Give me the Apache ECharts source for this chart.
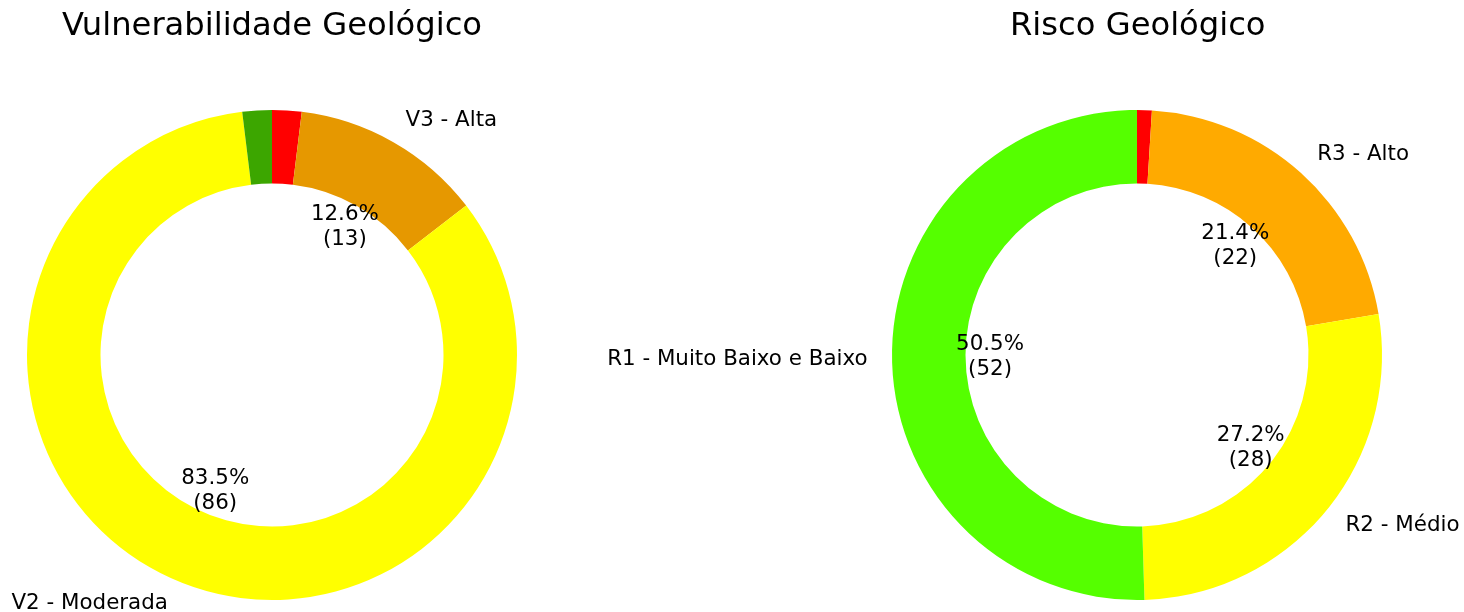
<!DOCTYPE html>
<html>
<head>
<meta charset="utf-8">
<script src="https://cdn.jsdelivr.net/npm/echarts@6/dist/echarts.min.js"></script>
<style>html,body{margin:0;padding:0;background:#fff}#c{width:1464px;height:612px}</style>
</head>
<body>
<div id="c"></div>
<script>
// Data
const vulnNames = ['V4 - Muito Alta', 'V3 - Alta', 'V2 - Moderada', 'V1 - Baixa'];
const vulnValues = [2, 13, 86, 2];
const vulnColors = ['#ff0000', '#e69800', '#ffff00', '#3ca600'];

const riscoNames = ['R4 - Muito Alto', 'R3 - Alto', 'R2 - Médio', 'R1 - Muito Baixo e Baixo'];
const riscoValues = [1, 22, 28, 52];
const riscoColors = ['#ff0000', '#ffaa00', '#ffff00', '#55ff00'];

const titles = ['Vulnerabilidade Geológico', 'Risco Geológico'];

const FONT = 'DejaVu Sans';
const R = 245;
const MIN_PCT = 3;
const LABEL_SIZE = 21.4;

function buildSeries(names, values, colors, center) {
  const total = values.reduce((a, b) => a + b, 0);
  const ring = {
    type: 'pie', center: center, radius: [R * 0.7, R],
    startAngle: 90, clockwise: true, avoidLabelOverlap: false,
    silent: true, animation: false,
    itemStyle: { borderWidth: 0 },
    label: { position: 'outside', fontFamily: FONT, fontSize: LABEL_SIZE, color: '#000', distanceToLabelLine: 0 },
    labelLine: { show: false, length: R * 0.1, length2: 0 },
    data: names.map((n, i) => ({
      name: n, value: values[i], itemStyle: { color: colors[i] },
      label: { show: values[i] / total * 100 >= MIN_PCT }
    }))
  };
  const pct = {
    type: 'pie', center: center, radius: [0, R * 1.2 - 6],
    startAngle: 90, clockwise: true, avoidLabelOverlap: false,
    silent: true, animation: false,
    itemStyle: { color: 'rgba(0,0,0,0)', borderWidth: 0 },
    label: {
      position: 'inside', fontFamily: FONT, fontSize: LABEL_SIZE, color: '#000', lineHeight: 25,
      formatter: p => (p.value / total * 100).toFixed(1) + '%\n(' + p.value + ')'
    },
    labelLine: { show: false },
    data: names.map((n, i) => ({
      name: n, value: values[i],
      label: { show: values[i] / total * 100 >= MIN_PCT }
    }))
  };
  return [ring, pct];
}

const chart = echarts.init(document.getElementById('c'));
chart.setOption({
  backgroundColor: '#fff',
  animation: false,
  title: [
    { text: titles[0], left: 62, top: 11, padding: 0, textStyle: { fontFamily: FONT, fontSize: 32.2, fontWeight: 'normal', color: '#000' } },
    { text: titles[1], left: 1010, top: 11, padding: 0, textStyle: { fontFamily: FONT, fontSize: 32.2, fontWeight: 'normal', color: '#000' } }
  ],
  series: [
    ...buildSeries(vulnNames, vulnValues, vulnColors, [272, 355]),
    ...buildSeries(riscoNames, riscoValues, riscoColors, [1137, 355])
  ]
});
</script>
</body>
</html>
